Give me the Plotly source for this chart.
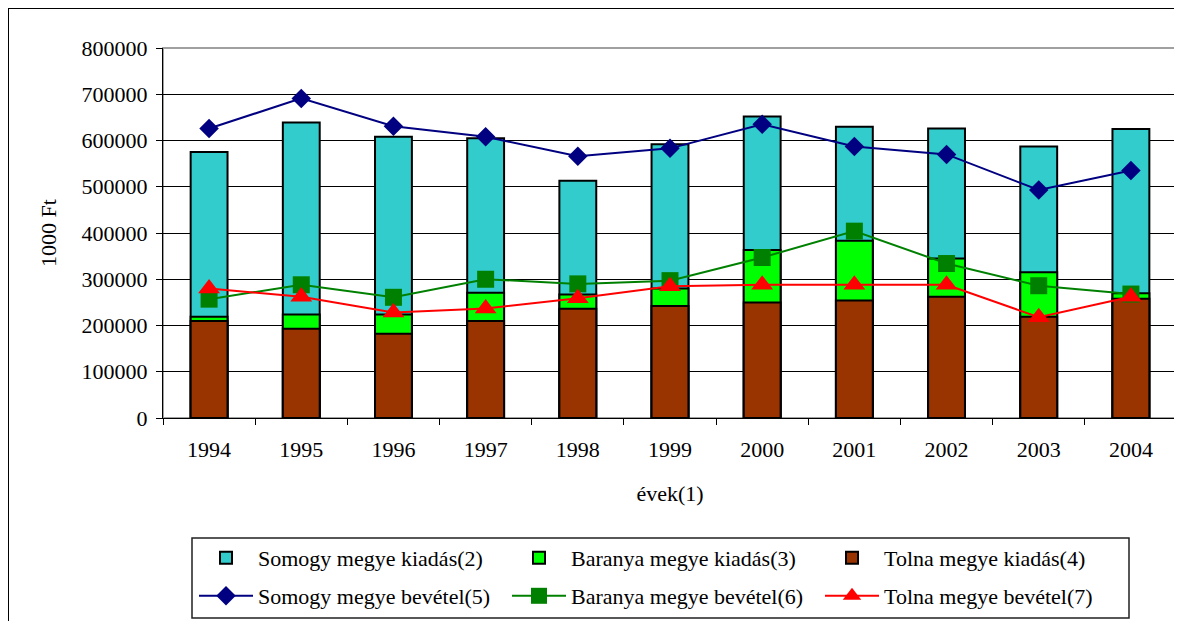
import plotly.graph_objects as go

years = ["1994", "1995", "1996", "1997", "1998", "1999", "2000", "2001", "2002", "2003", "2004"]

somogy_kiadas = [575000, 639000, 608000, 605000, 513000, 592000, 652000, 630000, 626000, 587000, 625000]
baranya_kiadas = [219000, 224000, 224000, 271000, 267000, 280000, 363000, 383000, 345000, 315000, 270000]
tolna_kiadas = [210000, 193000, 182000, 210000, 236000, 242000, 250000, 254000, 262000, 219000, 258000]

somogy_bevetel = [626000, 691000, 631000, 608000, 566000, 583000, 635000, 587000, 570000, 493000, 535000]
baranya_bevetel = [257000, 288000, 261000, 300000, 290000, 297000, 347000, 404000, 334000, 286000, 268000]
tolna_bevetel = [280000, 262000, 228000, 237000, 259000, 285000, 288000, 288000, 288000, 218000, 262000]

y_ticks = [0, 100000, 200000, 300000, 400000, 500000, 600000, 700000, 800000]

FONT = "'Liberation Serif', 'Times New Roman', 'DejaVu Serif', serif"
OFF = 8  # page body margin
W, H = 1182 - OFF, 621 - OFF
# plot area in page pixels: x 163..1177, y 48..418
L, R, T, B = 163 - OFF, 1182 - 1177, 48 - OFF, 621 - 418
PW, PH = W - L - R, H - T - B


def px_x(p):
    return (p - OFF - L) / PW


def px_y(p):
    return (H - B - (p - OFF)) / PH


fig = go.Figure()

bar_line = dict(color="black", width=2)
fig.add_trace(go.Bar(x=years, y=somogy_kiadas, name="Somogy megye kiadás(2)",
                     marker=dict(color="#33CCCC", line=bar_line), width=0.4, legend="legend"))
fig.add_trace(go.Bar(x=years, y=baranya_kiadas, name="Baranya megye kiadás(3)",
                     marker=dict(color="#00FF00", line=bar_line), width=0.4, legend="legend"))
fig.add_trace(go.Bar(x=years, y=tolna_kiadas, name="Tolna megye kiadás(4)",
                     marker=dict(color="#993300", line=bar_line), width=0.4, legend="legend"))

fig.add_trace(go.Scatter(x=years, y=somogy_bevetel, name="Somogy megye bevétel(5)", mode="lines+markers",
                         line=dict(color="#000080", width=2),
                         marker=dict(symbol="diamond", size=15, color="#000080"), legend="legend2"))
fig.add_trace(go.Scatter(x=years, y=baranya_bevetel, name="Baranya megye bevétel(6)", mode="lines+markers",
                         line=dict(color="#008000", width=2),
                         marker=dict(symbol="square", size=17, color="#008000"), legend="legend2"))
fig.add_trace(go.Scatter(x=years, y=tolna_bevetel, name="Tolna megye bevétel(7)", mode="lines+markers",
                         line=dict(color="#FF0000", width=2),
                         marker=dict(symbol="triangle-up", size=19, color="#FF0000"), legend="legend2"))

legend_common = dict(
    orientation="h", xanchor="left", yanchor="middle",
    font=dict(family=FONT, size=22, color="black"),
    bgcolor="rgba(0,0,0,0)", borderwidth=0,
    itemwidth=54, entrywidth=244, entrywidthmode="pixels",
    traceorder="normal", itemclick=False, itemdoubleclick=False,
)

fig.update_layout(
    width=W, height=H,
    margin=dict(l=L, r=R, t=T, b=B, pad=0, autoexpand=False),
    paper_bgcolor="white", plot_bgcolor="white",
    barmode="overlay",
    font=dict(family=FONT, size=22, color="black"),
    legend=dict(x=px_x(194), y=px_y(558), **legend_common),
    legend2=dict(x=px_x(194), y=px_y(596), **legend_common),
    xaxis=dict(
        type="category",
        range=[-0.5, len(years) - 0.5],
        showline=True, linecolor="black", linewidth=1,
        ticks="outside", ticklen=6, tickcolor="black", tickson="boundaries",
        showgrid=False,
        tickfont=dict(family=FONT, size=22, color="black"),
        ticklabelstandoff=12,
        title=dict(text="évek(1)", font=dict(family=FONT, size=22, color="black"), standoff=24),
    ),
    yaxis=dict(
        range=[0, 800000],
        tickvals=y_ticks, ticktext=[str(v) for v in y_ticks],
        showline=True, linecolor="black", linewidth=1,
        ticks="outside", ticklen=6, tickcolor="black",
        showgrid=True, gridcolor="black", gridwidth=1,
        zeroline=False,
        tickfont=dict(family=FONT, size=22, color="black"),
        ticklabelstandoff=4,
        title=dict(text="1000 Ft", font=dict(family=FONT, size=22, color="black"), standoff=18),
    ),
    shapes=[
        # plot-area frame (grey top/right)
        dict(type="rect", xref="paper", yref="paper", x0=0, x1=1, y0=0, y1=1,
             line=dict(color="#A0A0A0", width=2), layer="between"),
        # outer chart frame
        dict(type="rect", xref="paper", yref="paper", x0=px_x(8), x1=px_x(1300), y0=px_y(700), y1=px_y(8),
             line=dict(color="black", width=2), layer="below"),
        # legend frame
        dict(type="rect", xref="paper", yref="paper", x0=px_x(192), x1=px_x(1129), y0=px_y(618), y1=px_y(538),
             line=dict(color="#202020", width=1.5), layer="above"),
    ],
)

fig.write_html("out.html")
